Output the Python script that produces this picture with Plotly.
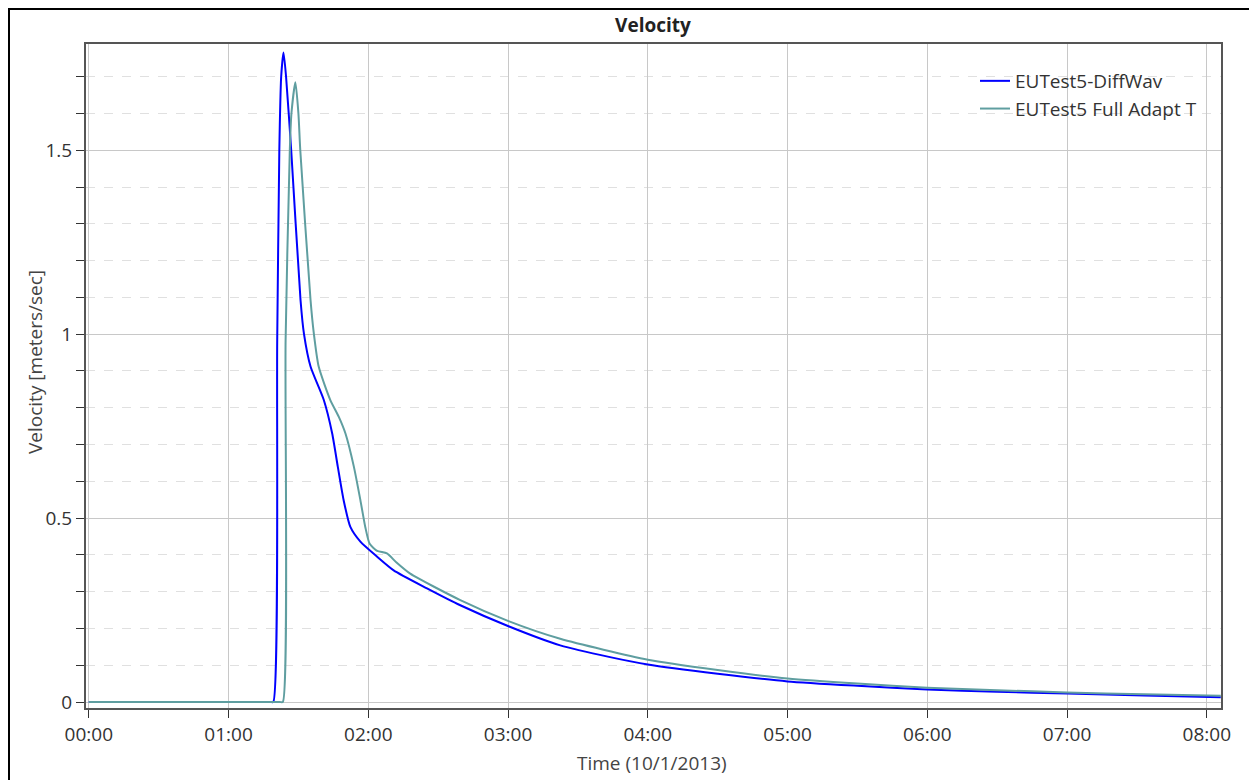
import pandas as pd
import plotly.graph_objects as go

# ---- data (minutes after 00:00 on 10/1/2013, velocity m/s) ----
blue_min = [0, 78.0, 79.2, 80.9, 81.8, 82.6, 83.6, 84.7, 86.9, 90.9, 92.4, 95.2, 100.9, 104.5,
            106.9, 109.4, 112.3, 116.6, 123.8, 130.9, 145.2, 159.5, 180.2, 202.4, 223.8,
            240, 270, 300, 330, 360, 390, 420, 453, 486]
blue_val = [0, 0, 0, 0.985, 1.5, 1.70, 1.766, 1.70, 1.50, 1.093, 1.0, 0.912, 0.821, 0.730,
            0.640, 0.549, 0.476, 0.436, 0.395, 0.358, 0.309, 0.263, 0.206, 0.154, 0.122,
            0.102, 0.077, 0.056, 0.044, 0.034, 0.028, 0.023, 0.018, 0.013]

teal_min = [0, 82.0, 83.3, 84.5, 86.3, 87.0, 88.7, 90.0, 90.8, 95.2, 96.6, 98.7, 103.7, 107.3,
            110.2, 113.8, 116.6, 118.7, 120.6, 123.8, 128.0, 132.0, 138.0, 159.5, 180.2,
            202.4, 240, 270, 300, 330, 360, 390, 420, 453, 486]
teal_val = [0, 0, 0, 0.985, 1.5, 1.60, 1.685, 1.60, 1.5, 1.093, 1.003, 0.912, 0.821, 0.776,
            0.730, 0.640, 0.549, 0.476, 0.43, 0.411, 0.404, 0.38, 0.349, 0.277, 0.220,
            0.172, 0.115, 0.087, 0.064, 0.050, 0.039, 0.032, 0.026, 0.021, 0.017]

series_names = ["EUTest5-DiffWav", "EUTest5 Full Adapt T"]
series_colors = ["#0000ff", "#5f9ea0"]

base = pd.Timestamp("2013-10-01 00:00:00")
blue_t = [base + pd.Timedelta(minutes=m) for m in blue_min]
teal_t = [base + pd.Timedelta(minutes=m) for m in teal_min]

FONT = "Open Sans"
FS = 19

fig = go.Figure()
fig.add_trace(go.Scatter(x=blue_t, y=blue_val, mode="lines", name=series_names[0],
                         line=dict(color=series_colors[0], width=2, shape="spline", smoothing=0.6)))
fig.add_trace(go.Scatter(x=teal_t, y=teal_val, mode="lines", name=series_names[1],
                         line=dict(color=series_colors[1], width=2, shape="spline", smoothing=0.6)))

OFF = 8  # page body margin
W, H = 1249, 772
L, R, T, B = 78, 36, 36, 72
pw, ph = W - L - R, H - T - B


def px(sx):
    return (sx - OFF - L) / pw


def py(sy):
    return (H - B - (sy - OFF)) / ph


fig.update_layout(
    width=W, height=H,
    margin=dict(l=L, r=R, t=T, b=B, autoexpand=False),
    paper_bgcolor="white", plot_bgcolor="white",
    font=dict(family=FONT, color="#333333", size=FS),
    title=dict(text="<b>Velocity</b>", x=px(653), xref="paper", xanchor="center",
               y=1 - (25 - OFF) / H, yref="container", yanchor="middle",
               font=dict(size=FS, family=FONT, color="#222222")),
    showlegend=True,
    legend=dict(x=px(975), y=py(62), xanchor="left", yanchor="top",
                bgcolor="rgba(0,0,0,0)", font=dict(size=FS, family=FONT, color="#333333"),
                tracegroupgap=0, itemwidth=30),
    xaxis=dict(
        type="date",
        range=[base - pd.Timedelta(minutes=1.2), base + pd.Timedelta(minutes=486.1)],
        dtick=3600000, tick0=base, tickformat="%H:%M",
        showgrid=True, gridcolor="#c8c8c8", gridwidth=1,
        showline=True, linecolor="#555555", linewidth=2, mirror=True,
        ticks="outside", ticklen=8, tickcolor="#333333",
        tickfont=dict(size=FS, family=FONT, color="#333333"),
        zeroline=False,
    ),
    yaxis=dict(
        range=[-0.0163, 1.789],
        tickvals=[0, 0.5, 1, 1.5], ticktext=["0", "0.5", "1", "1.5"],
        showgrid=True, gridcolor="#c8c8c8", gridwidth=1,
        showline=True, linecolor="#555555", linewidth=2, mirror=True,
        ticks="outside", ticklen=8, tickcolor="#333333",
        tickfont=dict(size=FS, family=FONT, color="#333333"),
        minor=dict(dtick=0.1, tick0=0, showgrid=True, gridcolor="#e0e0e0", griddash="dash",
                   ticks="outside", ticklen=8, tickcolor="#333333"),
        zeroline=False,
    ),
    annotations=[
        dict(text="Time (10/1/2013)", xref="paper", yref="paper", x=px(652), y=py(763),
             xanchor="center", yanchor="middle", showarrow=False,
             font=dict(size=FS, family=FONT, color="#444444")),
        dict(text="Velocity [meters/sec]", xref="paper", yref="paper", x=px(35), y=py(362),
             xanchor="center", yanchor="middle", showarrow=False, textangle=-90,
             font=dict(size=FS, family=FONT, color="#444444")),
    ],
    shapes=[
        dict(type="line", xref="paper", yref="paper", x0=px(9), x1=px(9),
             y0=py(7), y1=py(800), line=dict(color="black", width=2), layer="above"),
        dict(type="line", xref="paper", yref="paper", x0=px(8), x1=px(1300),
             y0=py(9), y1=py(9), line=dict(color="black", width=2), layer="above"),
    ],
)

fig.write_html("out.html")
